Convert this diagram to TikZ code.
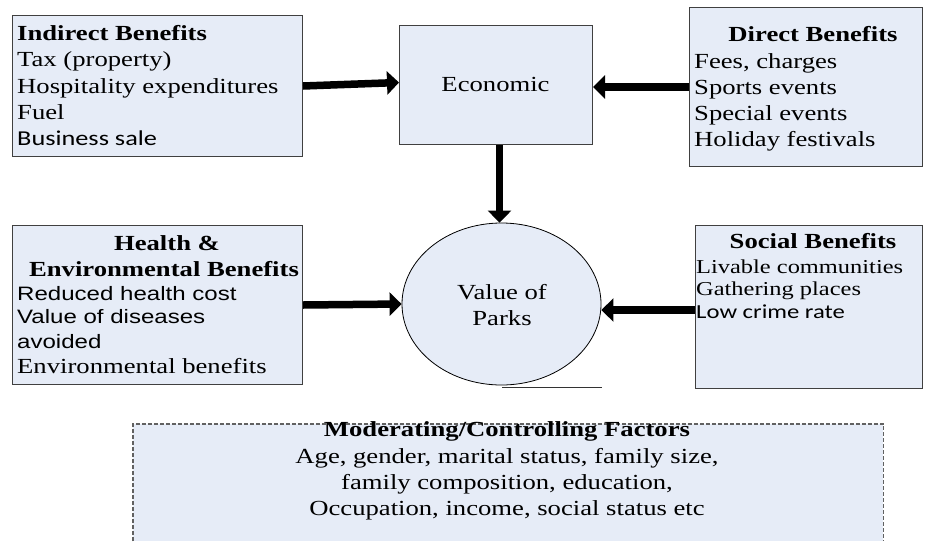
\documentclass[tikz,border=0pt]{standalone}
\usepackage{fontspec}
\setmainfont{Liberation Serif}[FakeStretch=1.24]
\newfontfamily\arialf{Liberation Sans}[FakeStretch=1.24]
\newfontfamily\calibf{Carlito}[FakeStretch=1.24]
\usetikzlibrary{shapes.geometric,arrows.meta}
\definecolor{boxfill}{HTML}{E6ECF7}
\definecolor{boxline}{HTML}{404040}
\newcommand\fBig{\fontsize{21.5}{24}\selectfont}
\newcommand\fSoc{\fontsize{19.7}{22}\selectfont}
\newcommand\fAri{\arialf\fontsize{19.4}{22}\selectfont}
\newcommand\fCalA{\calibf\fontsize{21.2}{24}\selectfont}
\newcommand\fCalB{\calibf\fontsize{19.9}{22}\selectfont}
\begin{document}
\begin{tikzpicture}[x=1pt,y=-1pt,
  box/.style={draw=boxline, line width=1pt, fill=boxfill, rectangle, inner sep=0pt, anchor=north west},
  bigarrow/.style={line width=7.5pt, -{Triangle[length=12pt,width=23pt]}},
  lt/.style={inner sep=0pt, anchor=base west, font=\fBig},
  ct/.style={inner sep=0pt, anchor=base, font=\fBig},
  st/.style={inner sep=0pt, anchor=base west, font=\fSoc},
  modline/.style={draw=black!62, line width=1.2pt, dash pattern=on 4pt off 2pt}
]
\useasboundingbox (0,0) rectangle (925,541);

% boxes
\node[box, minimum width=290pt, minimum height=141pt] (ind) at (12,15) {};
\node[box, minimum width=193pt, minimum height=119pt] (econ) at (399,25) {};
\node[box, minimum width=233pt, minimum height=159pt] (dir) at (689,7) {};
\node[box, minimum width=290pt, minimum height=159pt] (hea) at (12,225) {};
\node[box, minimum width=227pt, minimum height=163pt] (soc) at (695,225) {};
\node[ellipse, draw=black, line width=0.8pt, fill=boxfill, inner sep=0pt,
      minimum width=199pt, minimum height=162pt] (val) at (501.5,304) {};
\node[fill=boxfill, inner sep=0pt, anchor=north west,
      minimum width=750pt, minimum height=117pt] (mod) at (133,424) {};
\draw[modline] (mod.south west) -- (mod.north west) -- (mod.north east) -- (mod.south east);

% stray line under ellipse
\coordinate (sl) at (502,387);
\coordinate (sr) at (602,387);
\draw[line width=0.9pt, black!80] (sl) -- (sr);

% Indirect benefits
\node[lt, font=\fBig\bfseries] (i0) at (17,40.5) {Indirect Benefits};
\node[lt] (i1) at (17,66.8) {Tax (property)};
\node[lt] (i2) at (17,93.1) {Hospitality expenditures};
\node[lt] (i3) at (17,119.4) {Fuel};
\node[lt, font=\fCalA] (i4) at (17,145.7) {Business sale};

% Economic
\node[ct] (e0) at (495.5,91.5) {Economic};

% Direct benefits
\node[ct, font=\fBig\bfseries] (d0) at (813,41.5) {Direct Benefits};
\node[lt] (d1) at (694,68) {Fees, charges};
\node[lt] (d2) at (694,94.5) {Sports events};
\node[lt] (d3) at (694,120.5) {Special events};
\node[lt] (d4) at (694,146.5) {Holiday festivals};

% Health
\node[ct, font=\fBig\bfseries] (h0) at (167,250) {Health \&};
\node[ct, font=\fBig\bfseries] (h1) at (164,276) {Environmental Benefits};
\node[lt, font=\fAri] (h2) at (17,300) {Reduced health cost};
\node[lt, font=\fAri] (h3) at (17,323.5) {Value of diseases};
\node[lt, font=\fAri] (h4) at (17,348) {avoided};
\node[lt] (h5) at (17,373) {Environmental benefits};

% Social
\node[ct, font=\fBig\bfseries] (s0) at (813,248) {Social Benefits};
\node[st] (s1) at (696,273) {Livable communities};
\node[st] (s2) at (696,295.5) {Gathering places};
\node[st, font=\fCalB] (s3) at (696,318) {Low crime rate};

% Value of parks
\node[ct] (v0) at (502,299) {Value of};
\node[ct] (v1) at (502,325) {Parks};

% Moderating
\node[ct, font=\fBig\bfseries] (m0) at (507,436) {Moderating/Controlling Factors};
\node[ct] (m1) at (507,463) {Age, gender, marital status, family size,};
\node[ct] (m2) at (507,489) {family composition, education,};
\node[ct] (m3) at (507,515) {Occupation, income, social status etc};

% arrows
\draw[bigarrow] (ind.east) -- ([yshift=2.5pt]econ.west);
\draw[bigarrow] (dir.west) -- (econ.east |- dir.west);
\draw[bigarrow] ([xshift=3.5pt]econ.south) -- ([xshift=3.5pt]econ.south |- val.north);
\draw[bigarrow] (hea.east) -- (val.west);
\draw[bigarrow] ([yshift=-3pt]soc.west) -- ([yshift=-3pt]soc.west -| val.east);
\end{tikzpicture}
\end{document}
